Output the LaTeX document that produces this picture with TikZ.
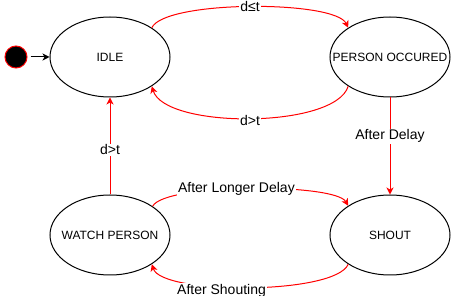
\documentclass[tikz,border=0pt]{standalone}
\usepackage{fontspec}
\setmainfont{Liberation Sans}
\usetikzlibrary{arrows.meta,shapes.geometric}
\begin{document}
\begin{tikzpicture}[x=1pt,y=-1pt,
  state/.style={draw=black,line width=1pt,ellipse,minimum width=120pt,minimum height=80pt,
    inner sep=0pt,font=\fontsize{12}{14}\selectfont},
  trans/.style={draw=red,line width=1pt,-{Stealth[length=7pt,width=7pt,inset=2pt,fill=red]}},
  lbl/.style={fill=white,inner sep=1pt,font=\fontsize{14}{16}\selectfont,text=black}]
  \useasboundingbox (0,0) rectangle (451,296);

  % states
  \node[circle,fill=black,draw=red,line width=1pt,minimum size=22pt,inner sep=0pt] (init) at (16,57) {};
  \node[state] (idle)   at (110,57)  {\makebox[0pt]{IDLE}};
  \node[state] (person) at (390,57)  {\makebox[0pt]{PERSON OCCURED}};
  \node[state] (watch)  at (110,235) {\makebox[0pt]{WATCH PERSON}};
  \node[state] (shout)  at (390,235) {\makebox[0pt]{SHOUT}};

  % transitions
  \draw[line width=1pt,-{Stealth[length=7pt,width=7pt,inset=2pt]},shorten <=3pt] (init) -- (idle);
  \draw[trans] (idle.35) .. controls (165,0) and (335,0) .. node[lbl]{d≤t} (person.145);
  \draw[trans] (person.215) .. controls (335,129) and (165,129) .. node[lbl,yshift=-2pt]{d>t} (idle.325);
  \draw[trans] (person.south) -- node[lbl,pos=0.4]{After Delay} (shout.north);
  \draw[trans] (watch.north) -- node[lbl,pos=0.46]{d>t} (idle.south);
  \draw[trans] (watch.34) .. controls (165,183) and (335,183) .. node[lbl,pos=0.45]{After Longer Delay} (shout.145);
  \draw[trans] (shout.215) .. controls (335,295) and (162,295) .. node[lbl,pos=0.6,yshift=-4pt]{After Shouting} (watch.325);
\end{tikzpicture}
\end{document}
